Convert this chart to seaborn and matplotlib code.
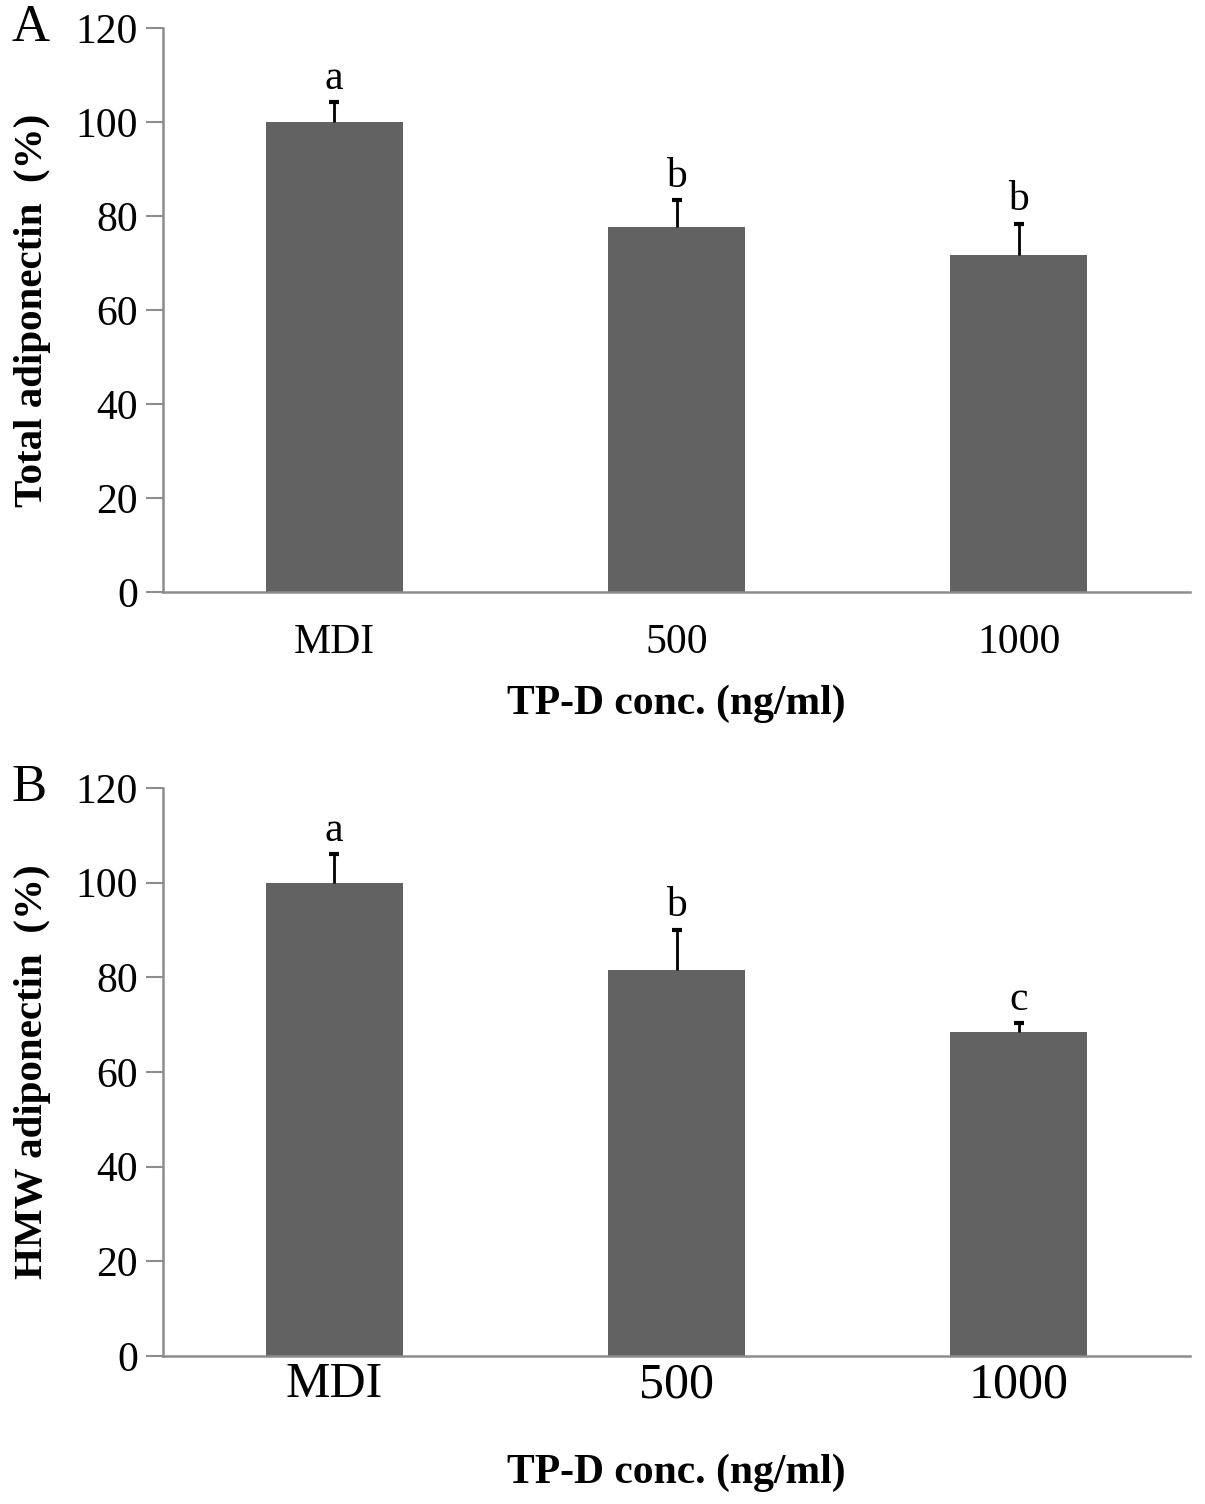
import matplotlib
matplotlib.use("Agg")
import matplotlib.pyplot as plt
import seaborn as sns
import pandas as pd
import numpy as np

categories = ["MDI", "500", "1000"]
total_values = [100.0, 77.7, 71.7]
total_errors = [4.3, 5.6, 6.7]
total_letters = ["a", "b", "b"]
hmw_values = [100.0, 81.6, 68.5]
hmw_errors = [6.1, 8.5, 1.9]
hmw_letters = ["a", "b", "c"]
yticks = [0, 20, 40, 60, 80, 100, 120]

sns.set_theme(style="white")
plt.rcParams['font.family'] = ['Liberation Serif', 'DejaVu Serif']
plt.rcParams['text.color'] = 'black'
plt.rcParams['axes.labelcolor'] = 'black'
plt.rcParams['xtick.labelcolor'] = 'black'
plt.rcParams['ytick.labelcolor'] = 'black'

W, H = 1205, 1504
fig = plt.figure(figsize=(W / 100, H / 100), dpi=100)

BAR = "#626262"
SPINE = "#8c8c8c"

def panel(rect, values, errors, letters, ylabel, panel_label, xtick_size, xpad, labelpad):
    ax = fig.add_axes(rect)
    df = pd.DataFrame({"cat": categories, "val": values})
    sns.barplot(data=df, x="cat", y="val", color=BAR, width=0.4, saturation=1,
                edgecolor="none", ax=ax, errorbar=None)
    x = np.arange(len(categories))
    eb = ax.errorbar(x, values, yerr=[np.zeros(len(values)), errors], fmt="none",
                     ecolor="black", elinewidth=2, capsize=3.5, capthick=3, zorder=5)
    eb[1][0].set_visible(False)
    for xi, v, e, t in zip(x, values, errors, letters):
        ax.annotate(t, (xi, v + e), xytext=(0, 3), textcoords="offset points",
                    ha="center", va="bottom", fontsize=30)
    ax.set_xlim(-0.5, 2.5)
    ax.set_ylim(0, 120)
    ax.set_yticks(yticks)
    ax.set_yticklabels([str(t) for t in yticks], fontsize=30)
    ax.set_xticks(x)
    ax.set_xticklabels(categories, fontsize=xtick_size)
    ax.set_xticks([-0.5, 0.5, 1.5, 2.5], minor=True)
    ax.tick_params(axis="x", which="major", length=0, pad=xpad)
    ax.tick_params(axis="x", which="minor", length=12, width=1.5, color=SPINE, direction="out")
    ax.tick_params(axis="y", which="major", length=12, width=1.5, color=SPINE,
                   direction="out", pad=6, left=True)
    for s in ["top", "right"]:
        ax.spines[s].set_visible(False)
    for s in ["left", "bottom"]:
        ax.spines[s].set_color(SPINE)
        ax.spines[s].set_linewidth(1.8)
    ax.set_xlabel("TP-D conc. (ng/ml)", fontsize=30, fontweight="bold", labelpad=labelpad)
    ax.set_ylabel(ylabel, fontsize=29.5, fontweight="bold")
    ax.yaxis.set_label_coords(-0.109, 0.5)
    ax.text(-0.148, 1.0, panel_label, transform=ax.transAxes, fontsize=38,
            ha="left", va="center")
    return ax

panel([163 / W, 1 - 592 / H, 1027 / W, 564 / H], total_values, total_errors,
      total_letters, "Total adiponectin  (%)", "A", 30, 23, 16)
panel([163 / W, 1 - 1356 / H, 1027 / W, 568 / H], hmw_values, hmw_errors,
      hmw_letters, "HMW adiponectin  (%)", "B", 36, 4, 33)

fig.savefig("out.png", dpi=100)
